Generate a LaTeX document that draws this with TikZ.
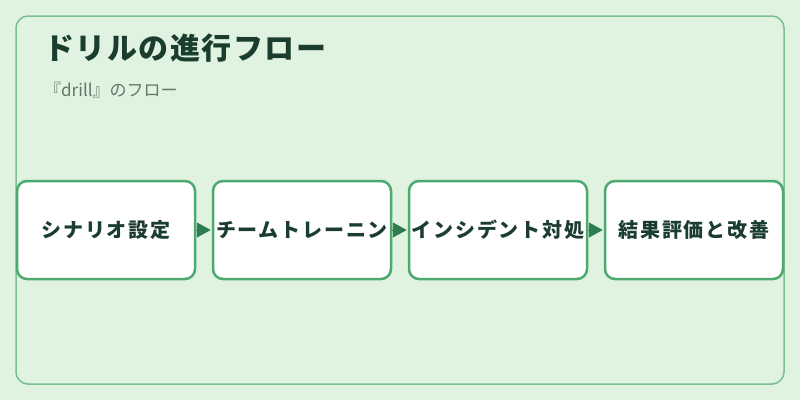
\documentclass[tikz,border=0pt]{standalone}
\usepackage{fontspec}
\setmainfont{Noto Sans CJK JP}
\usetikzlibrary{positioning,arrows.meta}
\definecolor{pagebg}{HTML}{E0F2E0}
\definecolor{frameline}{HTML}{7DBF8F}
\definecolor{boxline}{HTML}{4CAA6E}
\definecolor{arrowfill}{HTML}{2E7D50}
\definecolor{inktext}{HTML}{1B3D2F}
\definecolor{subtext}{HTML}{5F7A6A}
\tikzset{
  stepbox/.style={draw=boxline, line width=2.5pt, fill=white, rounded corners=10pt,
    minimum width=178pt, minimum height=98pt, inner sep=0pt, text=inktext,
    font=\fontsize{20}{20}\selectfont\bfseries\addfontfeature{LetterSpace=9}},
  flowarrow/.style={arrowfill, line width=1pt, shorten >=1pt,
    -{Triangle[length=14pt,width=15pt]}},
}
\begin{document}
\begin{tikzpicture}[x=1pt,y=-1pt]
  \useasboundingbox (0,0) rectangle (800,400);
  % page and frame
  \fill[pagebg] (0,0) rectangle (800,400);
  \draw[frameline, line width=1.5pt, rounded corners=12pt] (16,16) rectangle (784,384);
  % title
  \node[anchor=base west, inner sep=0pt, text=inktext,
    font=\fontsize{30}{30}\selectfont\bfseries\addfontfeature{LetterSpace=5}] (title) at (44,59) {ドリルの進行フロー};
  \node[anchor=base west, inner sep=0pt, text=subtext,
    font=\fontsize{17}{17}\selectfont] (subtitle) at (44,96) {『drill』のフロー};
  % steps
  \node[stepbox] (scenario) at (106,230) {シナリオ設定};
  \node[stepbox, right=15.5pt of scenario] (training) {チームトレーニン};
  \node[stepbox, right=15.5pt of training] (incident) {インシデント対処};
  \node[stepbox, right=15.5pt of incident] (review) {結果評価と改善};
  % arrows
  \draw[flowarrow] (scenario) -- (training);
  \draw[flowarrow] (training) -- (incident);
  \draw[flowarrow] (incident) -- (review);
\end{tikzpicture}
\end{document}
